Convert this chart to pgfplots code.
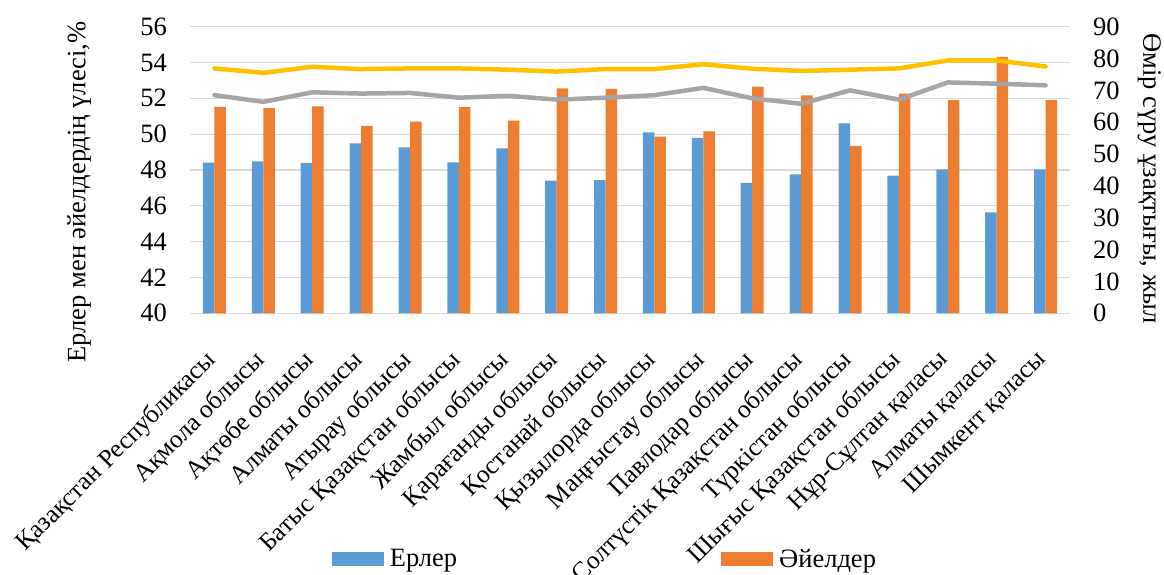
\documentclass[border=0pt]{standalone}
\usepackage{fontspec}
\setmainfont{Liberation Serif}
\usepackage{pgfplots}
\pgfplotsset{compat=1.18}
\definecolor{cblue}{HTML}{5B9BD5}
\definecolor{corange}{HTML}{ED7D31}
\definecolor{cgrey}{HTML}{A5A5A5}
\definecolor{cyellow}{HTML}{FFC000}
\definecolor{gridgray}{HTML}{D9D9D9}
\newcommand\fs{\fontsize{26.5}{30}\selectfont}
\newcommand\fx{\fontsize{25.5}{29}\selectfont}

\pgfplotstableread{
x men women
0 48.41 51.53
1 48.48 51.45
2 48.39 51.55
3 49.49 50.47
4 49.26 50.70
5 48.43 51.51
6 49.21 50.75
7 47.41 52.55
8 47.43 52.53
9 50.10 49.86
10 49.80 50.16
11 47.28 52.66
12 47.76 52.16
13 50.60 49.34
14 47.69 52.27
15 48.04 51.90
16 45.64 54.32
17 48.04 51.90
}\shares

\pgfplotstableread{
x grey yellow
0 68.5 76.9
1 66.4 75.5
2 69.4 77.4
3 69.0 76.7
4 69.2 76.9
5 67.7 76.9
6 68.3 76.5
7 67.1 75.9
8 67.7 76.7
9 68.5 76.7
10 70.8 78.2
11 67.5 76.8
12 65.8 76.1
13 70.0 76.5
14 67.1 76.9
15 72.5 79.4
16 72.1 79.4
17 71.6 77.5
}\life

\begin{document}
\begin{tikzpicture}
\useasboundingbox (-190pt,-261.7pt) rectangle (974pt,313.3pt);
\begin{axis}[
  at={(0pt,0pt)}, anchor=south west,
  scale only axis, width=880pt, height=286.6pt,
  xmin=-0.5, xmax=17.5, ymin=40, ymax=56,
  ytick={40,42,...,56},
  xtick={0,...,17},
  xticklabels={Қазақстан Республикасы, Ақмола облысы, Ақтөбе облысы, Алматы облысы, Атырау облысы, Батыс Қазақстан облысы, Жамбыл облысы, Қарағанды облысы, Қостанай облысы, Қызылорда облысы, Маңғыстау облысы, Павлодар облысы, Солтүстік Қазақстан облысы, Түркістан облысы, Шығыс Қазақстан облысы, Нұр-Сұлтан қаласы, Алматы қаласы, Шымкент қаласы},
  ybar=0pt, bar width=11.5pt,
  ymajorgrids, grid style={draw=gridgray, line width=1.2pt},
  axis line style={draw=none}, major tick length=0pt,
  /pgf/number format/assume math mode=true,
  tick label style={font=\fs},
  yticklabel style={inner sep=0pt, xshift=-23pt},
  xticklabel style={font=\fx, rotate=45, anchor=north east, inner sep=0pt, xshift=-32pt, yshift=-17pt},
  ylabel={Ерлер мен әйелдердің үлесі,\%},
  ylabel style={font=\fs, at={(axis description cs:-0.126,0.423)}, anchor=center},
  legend columns=2,
  legend style={draw=none, fill=none, font=\fs, at={(axis description cs:0.161,-0.857)}, anchor=west, inner sep=0pt,
    /tikz/every odd column/.append style={column sep=4pt},
    /tikz/every even column/.append style={column sep=262pt}},
  legend image code/.code={\fill[#1] (0pt,-7pt) rectangle (52pt,7pt);},
  clip=false,
]
\addplot[fill=cblue, draw=none] table[x=x,y=men] {\shares};
\addlegendentry{Ерлер}
\addplot[fill=corange, draw=none] table[x=x,y=women] {\shares};
\addlegendentry{Әйелдер}
\end{axis}
\begin{axis}[
  at={(0pt,0pt)}, anchor=south west,
  scale only axis, width=880pt, height=286.6pt,
  xmin=-0.5, xmax=17.5, ymin=0, ymax=90,
  ytick={0,10,...,90},
  axis x line=none, axis y line*=right,
  axis line style={draw=none}, major tick length=0pt,
  /pgf/number format/assume math mode=true,
  tick label style={font=\fs},
  yticklabel style={inner sep=0pt, xshift=23pt, anchor=west},
  ylabel={Өмір сүру ұзақтығы, жыл},
  ylabel style={font=\fs, at={(axis description cs:1.090,0.47)}, anchor=center, rotate=180},
]
\addplot[cgrey, line width=4.5pt, line join=round, line cap=round] table[x=x,y=grey] {\life};
\addplot[cyellow, line width=4.5pt, line join=round, line cap=round] table[x=x,y=yellow] {\life};
\end{axis}
\end{tikzpicture}
\end{document}
